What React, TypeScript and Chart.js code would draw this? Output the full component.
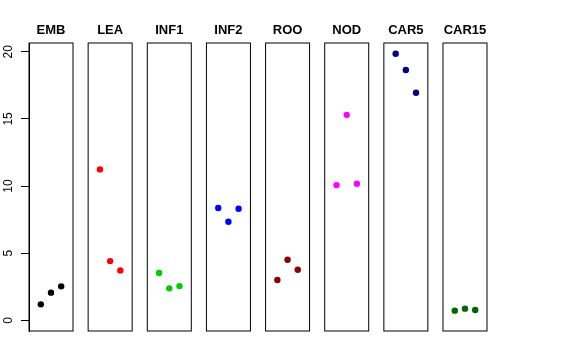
import React, { useEffect, useRef } from "react";
import { Chart, registerables } from "chart.js";

Chart.register(...registerables);

const categories = ["EMB", "LEA", "INF1", "INF2", "ROO", "NOD", "CAR5", "CAR15"];
const embValues = [1.19, 2.06, 2.53];
const leaValues = [11.24, 4.41, 3.72];
const inf1Values = [3.52, 2.38, 2.55];
const inf2Values = [8.36, 7.34, 8.31];
const rooValues = [3.0, 4.51, 3.77];
const nodValues = [10.07, 15.3, 10.17];
const car5Values = [19.85, 18.64, 16.95];
const car15Values = [0.72, 0.87, 0.77];
const seriesValues = [embValues, leaValues, inf1Values, inf2Values, rooValues, nodValues, car5Values, car15Values];
const colors = ["#000000", "#FF0000", "#00CD00", "#0000FF", "#8B0000", "#FF00FF", "#00008B", "#006400"];
const yTicks = [0, 5, 10, 15, 20];

// per-panel x domain (R style 4% extension of [0,4]) and spacing between panels
const PANEL_MIN = -0.16;
const PANEL_MAX = 4.16;
const PANEL_STEP = 5.806;
const Y_MIN = -0.794;
const Y_MAX = 20.65;

const FONT = "'Liberation Sans', Arial, Helvetica, sans-serif";

export default function App() {
  const ref = useRef<HTMLCanvasElement | null>(null);

  useEffect(() => {
    if (!ref.current) return;
    const datasets = seriesValues.map((vals, i) => ({
      label: categories[i],
      data: vals.map((v, j) => ({ x: i * PANEL_STEP + (j + 1), y: v })),
      backgroundColor: colors[i],
      borderColor: colors[i],
      pointRadius: 3.2,
      borderWidth: 0,
    }));

    const panelPlugin = {
      id: "panels",
      afterDatasetsDraw(chart: any) {
        const { ctx, chartArea, scales } = chart;
        const xs = scales.x;
        ctx.save();
        ctx.strokeStyle = "#000";
        ctx.lineWidth = 1;
        categories.forEach((name, i) => {
          const l = xs.getPixelForValue(i * PANEL_STEP + PANEL_MIN);
          const r = xs.getPixelForValue(i * PANEL_STEP + PANEL_MAX);
          ctx.strokeRect(l, chartArea.top, r - l, chartArea.bottom - chartArea.top);
          ctx.fillStyle = "#000";
          ctx.font = `bold 13px ${FONT}`;
          ctx.textAlign = "center";
          ctx.textBaseline = "alphabetic";
          ctx.fillText(name, (l + r) / 2, chartArea.top - 9.5);
        });
        ctx.restore();
      },
    };

    const chart = new Chart(ref.current, {
      type: "scatter",
      data: { datasets },
      plugins: [panelPlugin],
      options: {
        animation: false,
        responsive: false,
        maintainAspectRatio: false,
        layout: { padding: { left: 0, top: 43, right: 89, bottom: 29 } },
        plugins: { legend: { display: false }, tooltip: { enabled: false }, title: { display: false } },
        scales: {
          x: {
            type: "linear",
            display: false,
            min: PANEL_MIN,
            max: 7 * PANEL_STEP + PANEL_MAX,
          },
          y: {
            type: "linear",
            min: Y_MIN,
            max: Y_MAX,
            afterBuildTicks: (scale: any) => {
              scale.ticks = yTicks.map((v) => ({ value: v }));
            },
            afterFit: (scale: any) => {
              scale.width = 29;
            },
            grid: { drawOnChartArea: false, drawTicks: true, tickLength: 8, color: "#000", lineWidth: 1 },
            border: { display: true, color: "#000" },
            ticks: {
              minRotation: 90,
              maxRotation: 90,
              crossAlign: "center",
              padding: 6,
              color: "#000",
              font: { family: FONT, size: 12 },
            },
          },
        },
      },
    });
    return () => chart.destroy();
  }, []);

  return (
    <div style={{ position: "absolute", left: 0, top: 0, width: 576, height: 360, background: "#fff" }}>
      <canvas ref={ref} width={576} height={360} style={{ width: 576, height: 360, display: "block" }} />
    </div>
  );
}
